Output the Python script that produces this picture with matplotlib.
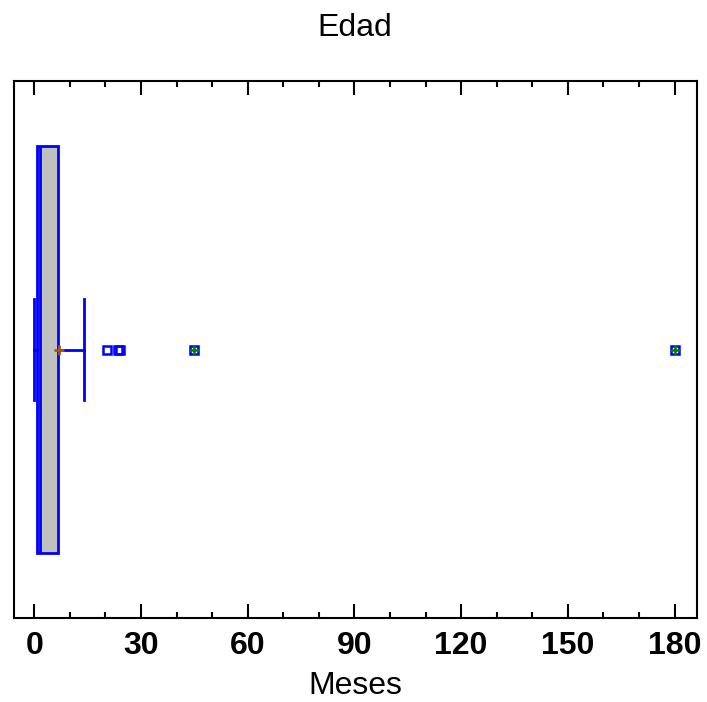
import matplotlib
matplotlib.use("Agg")
import matplotlib.pyplot as plt
import numpy as np

plt.rcParams['font.family'] = ['Liberation Sans', 'DejaVu Sans']

# Box-and-whisker summary for "Edad" (months)
q1 = 0.7
median = 1.6
q3 = 6.7
mean = 6.9
whisker_low = 0.0
whisker_high = 14.0
outliers = [20.4, 23.6, 24.1]
far_outliers = [44.8, 180.0]

title = "Edad"
xlabel = "Meses"
major_ticks = [0, 30, 60, 90, 120, 150, 180]

blue = "#0000ff"

fig = plt.figure(figsize=(7.07, 7.02), dpi=100)
ax = fig.add_axes([14 / 707, 84 / 702, 683 / 707, 537 / 702])

stats = [{
    "med": median, "q1": q1, "q3": q3, "mean": mean,
    "whislo": whisker_low, "whishi": whisker_high,
    "fliers": outliers + far_outliers,
}]

ax.bxp(stats, positions=[0.5], widths=0.758, capwidths=0.188,
       orientation='horizontal', patch_artist=True, showmeans=True,
       boxprops=dict(facecolor="#c0c0c0", edgecolor=blue, linewidth=2),
       medianprops=dict(color=blue, linewidth=2),
       whiskerprops=dict(color=blue, linewidth=2),
       capprops=dict(color=blue, linewidth=2),
       meanprops=dict(marker='+', markeredgecolor="#a0522d", markersize=7,
                      markeredgewidth=2),
       flierprops=dict(marker='s', markerfacecolor='none', markeredgecolor=blue,
                       markersize=6, markeredgewidth=1.8))

# far outliers get a green plus on top of the square
ax.plot(far_outliers, [0.5] * len(far_outliers), linestyle='none', marker='+',
        color="#008000", markersize=7, markeredgewidth=1.8, zorder=5)

ax.set_xlim(-5.7, 186.3)
ax.set_ylim(0, 1)
ax.set_xticks(major_ticks)
ax.set_xticks(np.arange(0, 181, 10), minor=True)
ax.set_xticklabels([str(t) for t in major_ticks], fontsize=23, fontweight='bold')
ax.set_yticks([])
ax.tick_params(axis='x', which='both', direction='in', top=True, width=1.5)
ax.tick_params(axis='x', which='major', length=10, pad=9.5)
ax.tick_params(axis='x', which='minor', length=4)
for s in ax.spines.values():
    s.set_linewidth(1.5)

fig.text(355 / 707, 1 - 36 / 702, title, ha='center', va='baseline', fontsize=23)
fig.text(355 / 707, 1 - 694 / 702, xlabel, ha='center', va='baseline', fontsize=23)

fig.savefig("out.png", dpi=100)
